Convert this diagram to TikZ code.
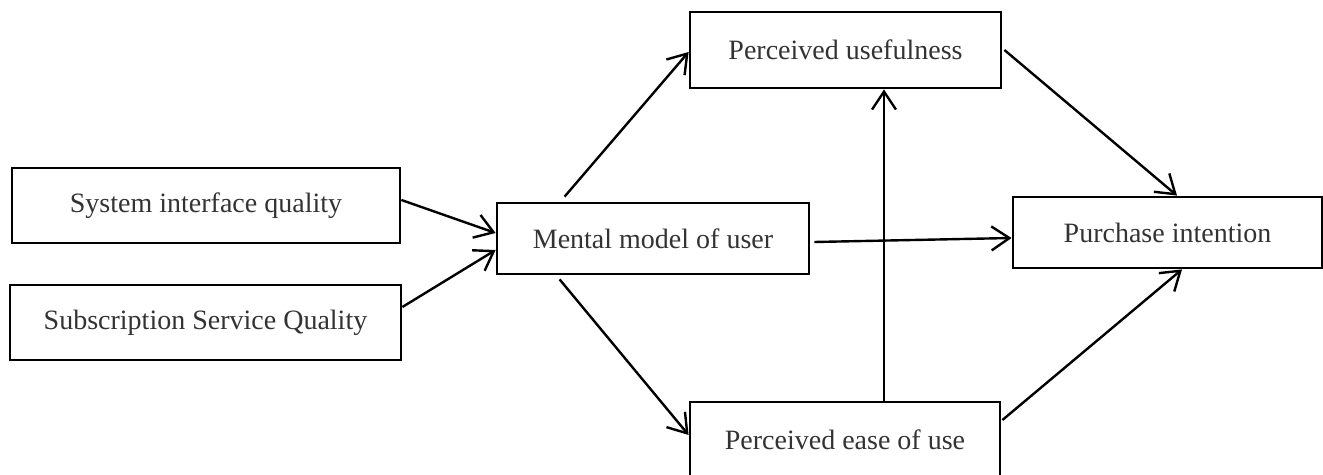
\documentclass[tikz,border=0pt]{standalone}
\usepackage{fontspec}
\setmainfont{Liberation Serif}
\usetikzlibrary{arrows.meta, calc}

\begin{document}
\begin{tikzpicture}[x=0.5pt, y=-0.5pt,
	box/.style={draw, line width=1.4pt, inner sep=0pt, text=black!80, font=\fontsize{14}{16}\selectfont},
	link/.style={line width=1.2pt, -{Straight Barb[length=9pt, width=12pt, line width=1.2pt]}}]

	\useasboundingbox (0,0) rectangle (1323,475);

	\node[box, minimum width=194pt, minimum height=37.5pt] (siq) at (206,205.5) {System interface quality};
	\node[box, minimum width=195.5pt, minimum height=37.5pt] (ssq) at (205.5,322.5) {Subscription Service Quality};
	\node[box, minimum width=156pt, minimum height=35.5pt] (mm) at (653,238.5) {Mental model of user};
	\node[box, minimum width=155.5pt, minimum height=38pt] (pu) at (845.5,50) {Perceived usefulness};
	\node[box, minimum width=155pt, minimum height=38pt] (peu) at (845,440) {Perceived ease of use};
	\node[box, minimum width=154.5pt, minimum height=35.5pt] (pi) at (1167.5,232.5) {Purchase intention};

	\draw[link] ($(siq.east)+(0,-5.5)$) -- ($(mm.west)+(0,-5.5)$);
	\draw[link] ($(ssq.east)+(0,-15.5)$) -- ($(mm.west)+(0,11.5)$);
	\draw[link] ($(mm.north west)+(69,-5)$) -- ($(pu.west)+(0,2)$);
	\draw[link] ($(mm.south west)+(64,4)$) -- ($(peu.west)+(0,-5)$);
	\draw[link] ($(mm.east)+(4,3.5)$) -- ($(pi.west)+(0,5.5)$);
	\draw[link] ($(peu.north)+(39,0)$) -- ($(pu.south)+(38.5,0)$);
	\draw[link] ($(pu.east)+(2,0)$) -- ($(pi.north)+(9.5,0)$);
	\draw[link] ($(peu.east)+(1,-20)$) -- ($(pi.south)+(14.5,0)$);

\end{tikzpicture}
\end{document}
